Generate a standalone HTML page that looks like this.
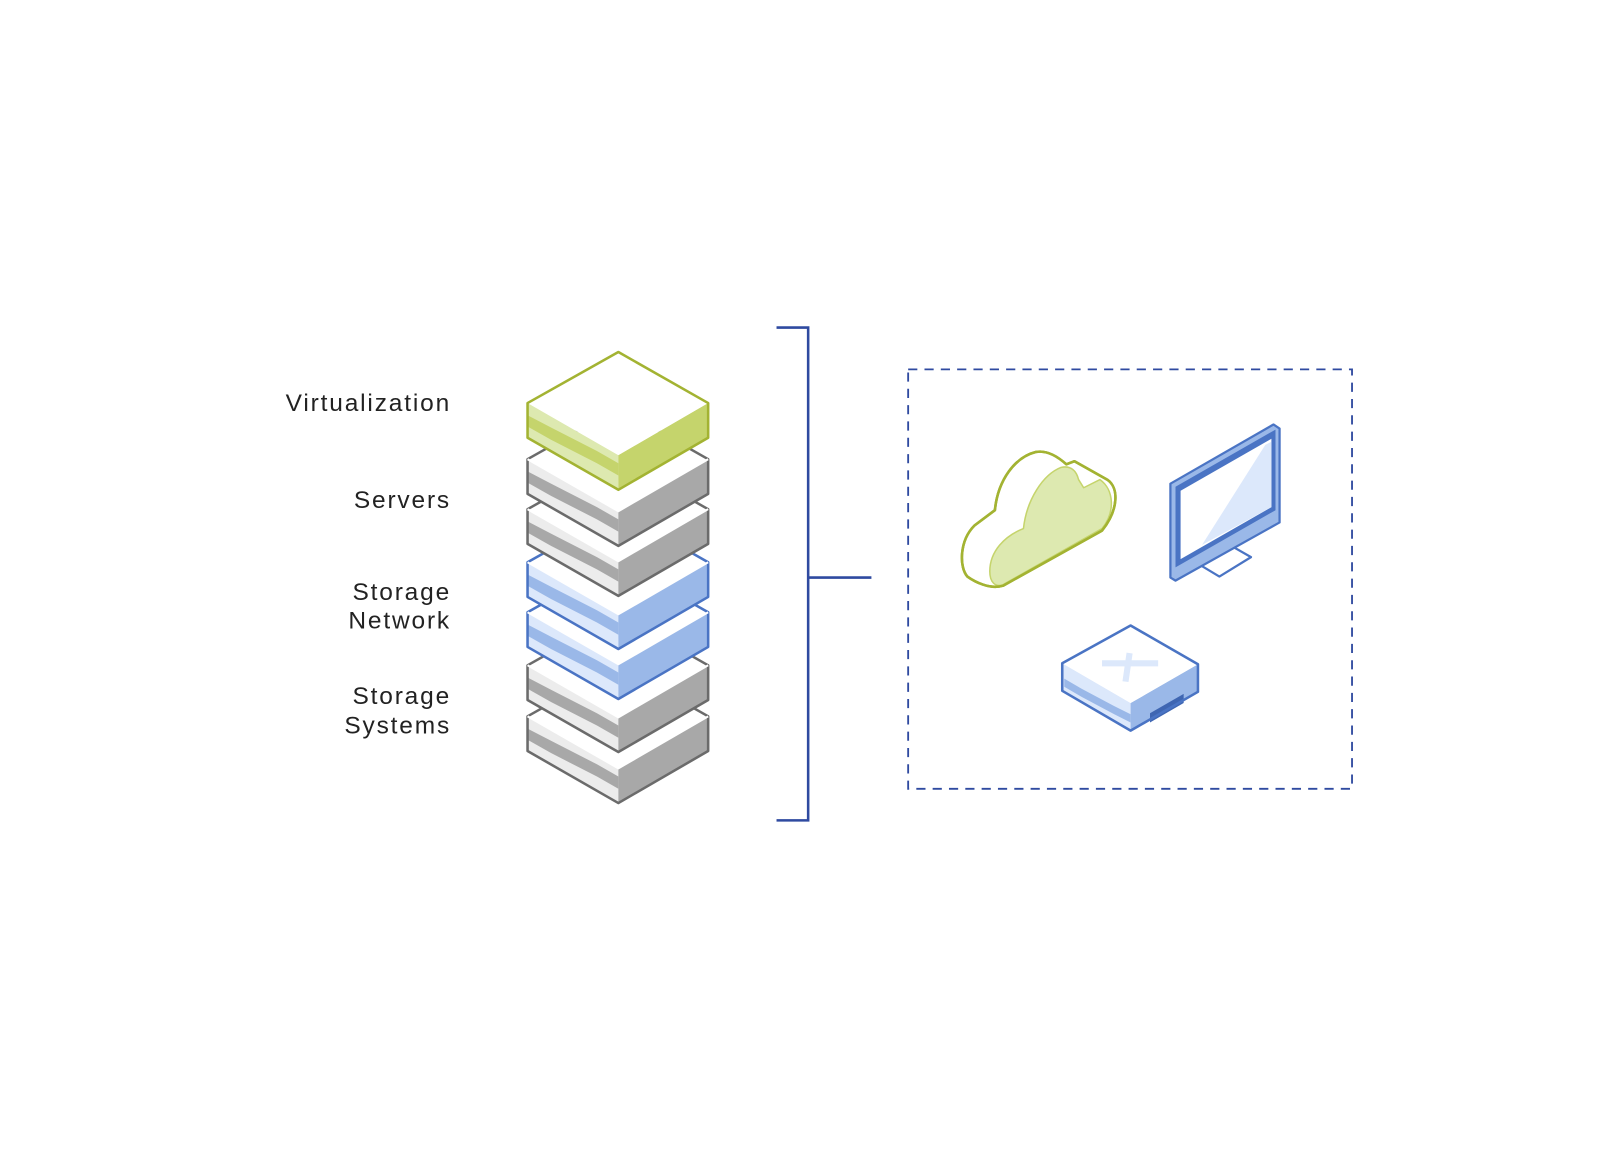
<!DOCTYPE html>
<html><head><meta charset="utf-8"><style>
html,body{margin:0;padding:0;background:#fff;}
svg{display:block}
text{font-family:"Liberation Sans",sans-serif;font-size:24px;fill:#222;letter-spacing:1.8px;}
</style></head><body>
<svg width="1600" height="1164" viewBox="0 0 1600 1164" xmlns="http://www.w3.org/2000/svg">
<defs>
<g id="gray" stroke-linejoin="round">
 <path d="M517,-85 L606,-34 L606,0 L517,-51 Z" fill="#ececec"/>
 <path d="M517,-73 L540,-61 L585,-38 L606,-26 L606,-14 L585,-26 L540,-49 L517,-62 Z" fill="#a8a8a8"/>
 <path d="M606,-34 L694,-85 L694,-51 L606,0 Z" fill="#a8a8a8"/>
 <path d="M606,-135 L694,-85 L606,-34 L517,-85 Z" fill="#fff"/>
 <path d="M606,-135 L694,-85 L694,-51 L606,0 L517,-51 L517,-85 Z" fill="none" stroke="#6b6b6b" stroke-width="2.5"/>
 <path d="M517,-85 L606,-34 L694,-85" fill="none" stroke="#fff" stroke-width="2"/>
</g>
<g id="blue" stroke-linejoin="round">
 <path d="M517,-85 L606,-34 L606,0 L517,-51 Z" fill="#dce8fb"/>
 <path d="M517,-73 L540,-61 L585,-38 L606,-26 L606,-14 L585,-26 L540,-49 L517,-62 Z" fill="#9ab8e8"/>
 <path d="M606,-34 L694,-85 L694,-51 L606,0 Z" fill="#9ab8e8"/>
 <path d="M606,-135 L694,-85 L606,-34 L517,-85 Z" fill="#fff"/>
 <path d="M606,-135 L694,-85 L694,-51 L606,0 L517,-51 L517,-85 Z" fill="none" stroke="#4a74c4" stroke-width="2.5"/>
 <path d="M517,-85 L606,-34 L694,-85" fill="none" stroke="#fff" stroke-width="2"/>
</g>
<g id="green" stroke-linejoin="round">
 <path d="M517,-85 L606,-34 L606,0 L517,-51 Z" fill="#dde9b0"/>
 <path d="M517,-73 L540,-61 L585,-38 L606,-26 L606,-14 L585,-26 L540,-49 L517,-62 Z" fill="#c5d46c"/>
 <path d="M606,-34 L694,-85 L694,-51 L606,0 Z" fill="#c5d46c"/>
 <path d="M606,-135 L694,-85 L606,-34 L517,-85 Z" fill="#fff"/>
 <path d="M606,-135 L694,-85 L694,-51 L606,0 L517,-51 L517,-85 Z" fill="none" stroke="#a3b332" stroke-width="2.5"/>
</g>
</defs>
<g transform="scale(1.0204)">
<text x="442" y="403" text-anchor="end">Virtualization</text>
<text x="442" y="498" text-anchor="end">Servers</text>
<text x="442" y="588" text-anchor="end">Storage</text>
<text x="442" y="616" text-anchor="end">Network</text>
<text x="442" y="690" text-anchor="end">Storage</text>
<text x="442" y="719" text-anchor="end">Systems</text>

<use href="#gray" transform="translate(0,787)"/>
<use href="#gray" transform="translate(0,737)"/>
<use href="#blue" transform="translate(0,685)"/>
<use href="#blue" transform="translate(0,636)"/>
<use href="#gray" transform="translate(0,584)"/>
<use href="#gray" transform="translate(0,535)"/>
<use href="#green" transform="translate(0,480)"/>

<path d="M761,321 H792 V804 H761 M792,566 H854" fill="none" stroke="#2f4aa0" stroke-width="2.5"/>
<rect x="890" y="362" width="435" height="411" fill="none" stroke="#2f4aa0" stroke-width="1.8" stroke-dasharray="9,7"/>

<g stroke-linejoin="round" stroke-linecap="round">
 <path d="M975,500 C978,470 995,448 1015,443 C1025,441 1035,446 1045,455 L1053,452 L1085,470 C1097,478 1096,500 1080,520 L983,574 C970,578 955,570 948,565 C940,556 940,530 955,515 Z" fill="#fff" stroke="#a3b332" stroke-width="2.5"/>
 <path d="M1003,518 C1006,490 1022,465 1040,458 C1050,456 1055,462 1057,470 L1062,478 L1078,470 C1092,480 1093,502 1080,518 L983,573 C975,576 970,570 970,560 C970,540 985,525 1003,518 Z" fill="#dde9b0" stroke="#c5d46c" stroke-width="1.5"/>
 <path d="M975,500 C978,470 995,448 1015,443 C1025,441 1035,446 1045,455 L1053,452 L1085,470 C1097,478 1096,500 1080,520 L983,574 C970,578 955,570 948,565 C940,556 940,530 955,515 Z" fill="none" stroke="#a3b332" stroke-width="2.5"/>
</g>

<g stroke-linejoin="round">
 <path d="M1175,543 L1198,530 L1226,546 L1195,565 L1175,553 Z" fill="#fff" stroke="#4a74c4" stroke-width="2.2"/>
 <path d="M1147,474 L1248,416 L1254,420 L1254,512 L1152,569 L1147,566 Z" fill="#9ab8e8" stroke="#4a74c4" stroke-width="2.2"/>
 <path d="M1152,477 L1250,421 L1250,500 L1152,556 Z" fill="#4a74c4"/>
 <path d="M1157,481 L1246,430 L1246,497 L1157,548 Z" fill="#fff"/>
 <path d="M1178,534 L1240,436 L1246,433 L1246,497 Z" fill="#dce8fb"/>
</g>

<g stroke-linejoin="round">
 <path d="M1041,650 L1108,689 L1108,716 L1041,677 Z" fill="#dce8fb"/>
 <path d="M1043,665 L1060,675 L1092,692 L1108,700 L1108,708 L1092,700 L1060,683 L1043,673 Z" fill="#9ab8e8"/>
 <path d="M1108,689 L1174,651 L1174,678 L1108,716 Z" fill="#9ab8e8"/>
 <path d="M1127,699 L1160,680 L1160,689 L1127,708 Z" fill="#3f66b2"/>
 <path d="M1108,613 L1174,651 L1108,689 L1041,650 Z" fill="#fff"/>
 <path d="M1080,650 L1135,650 M1107,640 L1103,668" stroke="#dce8fb" stroke-width="6"/>
 <path d="M1108,613 L1174,651 L1174,678 L1108,716 L1041,677 L1041,650 Z" fill="none" stroke="#4a74c4" stroke-width="2.5"/>
</g>
</g>
</svg>
</body></html>
